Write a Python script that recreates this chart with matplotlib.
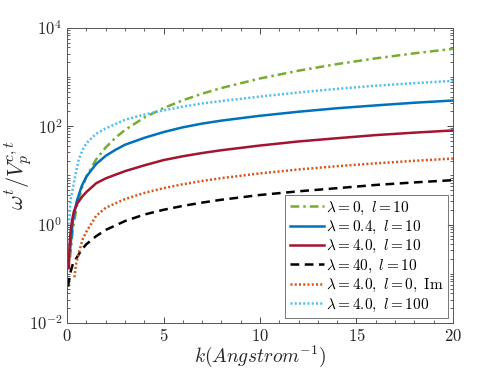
import math
import matplotlib
matplotlib.use('Agg')
import matplotlib.pyplot as plt
from matplotlib.ticker import FixedLocator, LogLocator, MultipleLocator, FuncFormatter, NullFormatter

plt.rcParams['mathtext.fontset'] = 'cm'
plt.rcParams['font.family'] = 'serif'
plt.rcParams['font.serif'] = ['DejaVu Serif']

# k (1/Angstrom) and omega^t / V_p^{c,t}
k_green = [0.15, 0.3, 0.5, 0.75, 1, 1.5, 2, 2.5, 3, 4, 5, 6, 7, 8, 10, 12, 14, 16, 18, 20]
v_green = [0.21, 0.84, 2.3, 5.3, 9.4, 21, 37, 58, 84, 150, 234, 337, 458, 598, 935, 1346, 1833, 2394, 3030, 3740]

k_blue = [0.15, 0.3, 0.5, 0.75, 1, 1.5, 2, 2.5, 3, 4, 5, 6, 7, 8, 10, 12, 14, 16, 18, 20]
v_blue = [0.3, 1.2, 3.0, 6.0, 9.5, 17, 25, 33, 42, 58, 76, 95, 113, 130, 163, 197, 232, 265, 300, 333]

k_red = [0.09, 0.12, 0.17, 0.25, 0.35, 0.5, 0.78, 1, 1.5, 2, 3, 4, 5, 6, 7, 8, 10, 12, 14, 16, 18, 20]
v_red = [0.13, 0.35, 0.67, 1.2, 1.85, 2.6, 3.7, 4.6, 6.9, 8.7, 12.2, 16, 20.5, 24.5, 28.5, 32.5, 40.5, 49, 57, 66, 74, 82]

k_black = [0.05, 0.15, 0.3, 0.52, 0.75, 1, 1.5, 2, 3, 4, 5, 6, 7, 8, 10, 12, 14, 16, 18, 20]
v_black = [0.055, 0.1, 0.16, 0.22, 0.31, 0.4, 0.58, 0.78, 1.18, 1.6, 2.0, 2.4, 2.8, 3.2, 4.0, 4.75, 5.5, 6.4, 7.2, 8.0]

k_orange = [0.38, 0.45, 0.6, 0.8, 1, 1.5, 2, 3, 4, 5, 6, 7, 8, 10, 12, 14, 16, 18, 20]
v_orange = [0.085, 0.15, 0.26, 0.5, 0.72, 1.5, 2.2, 3.3, 4.4, 5.5, 6.6, 7.7, 8.8, 11, 13.2, 15.4, 17.6, 19.8, 22]

k_cyan = [0.09, 0.15, 0.2, 0.3, 0.4, 0.6, 0.8, 1, 1.5, 2, 3, 4, 5, 6, 7, 8, 10, 12, 14, 16, 18, 20]
v_cyan = [1.0, 2.2, 3.5, 5.5, 9, 21, 33, 45, 70, 90, 135, 172, 210, 250, 290, 325, 400, 485, 575, 665, 750, 835]

labels = [r'$\lambda = 0,\ l = 10$',
          r'$\lambda = 0.4,\ l = 10$',
          r'$\lambda = 4.0,\ l = 10$',
          r'$\lambda = 40,\ l = 10$',
          r'$\lambda = 4.0,\ l = 0,\ \mathrm{Im}$',
          r'$\lambda = 4.0,\ l = 100$']

y_ticks = [1e-2, 1e0, 1e2, 1e4]

fig = plt.figure(figsize=(5.01, 3.76), dpi=100)
ax = fig.add_axes([0.134, 0.141, 0.770, 0.785])

lw = 1.8
ax.plot(k_green, v_green, color='#77AC30', lw=lw, ls=(0, (3.5, 1.6, 1.0, 1.6)), label=labels[0])
ax.plot(k_blue, v_blue, color='#0072BD', lw=lw, ls='-', label=labels[1])
ax.plot(k_red, v_red, color='#A2142F', lw=lw, ls='-', label=labels[2])
ax.plot(k_black, v_black, color='black', lw=lw, ls=(0, (3.5, 2.2)), label=labels[3])
ax.plot(k_orange, v_orange, color='#D95319', lw=lw, ls=(0, (0.8, 0.9)), label=labels[4])
ax.plot(k_cyan, v_cyan, color='#4DBEEE', lw=lw, ls=(0, (0.8, 0.9)), label=labels[5])

ax.set_yscale('log')
ax.set_xlim(0, 20)
ax.set_ylim(1e-2, 1e4)

ax.xaxis.set_major_locator(MultipleLocator(5))
ax.xaxis.set_minor_locator(MultipleLocator(1))
ax.xaxis.set_major_formatter(FuncFormatter(lambda v, p: r'$%d$' % v))
ax.yaxis.set_major_locator(FixedLocator(y_ticks))
ax.yaxis.set_minor_locator(LogLocator(base=10, subs=[1, 2, 3, 4, 5, 6, 7, 8, 9], numticks=20))
ax.yaxis.set_major_formatter(FuncFormatter(lambda v, p: r'$10^{%d}$' % round(math.log10(v))))
ax.yaxis.set_minor_formatter(NullFormatter())

ax.tick_params(which='both', direction='in', top=True, right=True, colors='#262626',
               labelsize=12)
ax.tick_params(which='major', length=4, width=0.6)
ax.tick_params(which='minor', length=2, width=0.5)
for s in ax.spines.values():
    s.set_color('#555555')
    s.set_linewidth(0.7)

ax.set_xlabel(r'$k(Angstrom^{-1})$', fontsize=14, color='#262626')
ax.set_ylabel(r'$\omega^t/V_p^{c,t}$', fontsize=16, color='#262626')
ax.xaxis.set_label_coords(0.5, -0.07)
ax.yaxis.set_label_coords(-0.085, 0.5)

leg = ax.legend(loc='lower right', fontsize=11, frameon=True, fancybox=False,
                edgecolor='#555555', handlelength=2.2, handletextpad=0.15,
                labelspacing=0.15, borderpad=0.3, borderaxespad=0.3)
leg.get_frame().set_linewidth(0.7)

fig.savefig('out.png', dpi=100)
